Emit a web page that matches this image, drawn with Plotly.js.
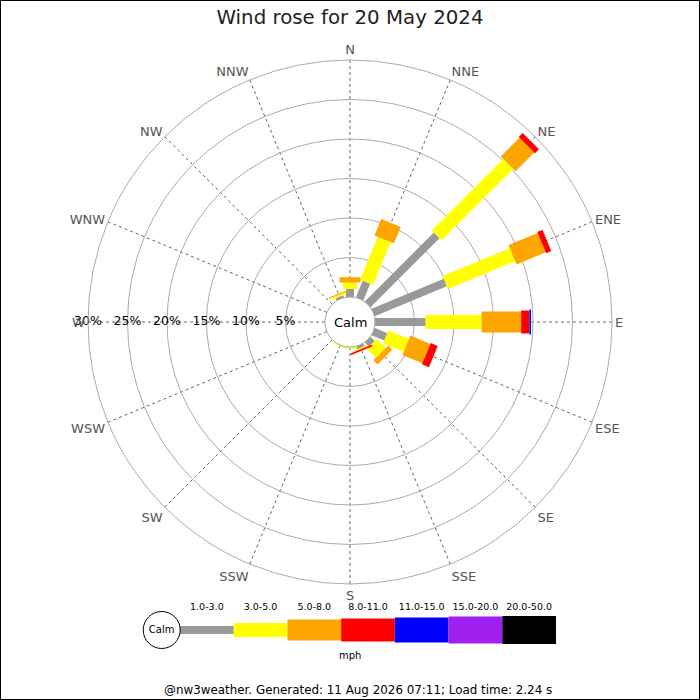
<!DOCTYPE html>
<html><head><meta charset="utf-8">
<script src="https://cdn.plot.ly/plotly-3.0.1.min.js"></script>
<style>html,body{margin:0;padding:0;background:#fff}#chart{width:700px;height:700px}</style>
</head><body><div id="chart"></div>
<script>
const directions = ['N','NNE','NE','ENE','E','ESE','SE','SSE','S','SSW','SW','WSW','W','WNW','NW','NNW'];
const speedBins = ['1.0-3.0','3.0-5.0','5.0-8.0','8.0-11.0','11.0-15.0','15.0-20.0','20.0-50.0'];
const binColors = ['#999999','#ffff00','#ffa500','#ff0000','#0000ff','#a020f0','#000000'];
const binWidths = [8,14,21,23,25,27,28];
// percentage of the day per direction, for each speed bin (mph)
const pct_1_3   = [1.0, 2.3, 12.35, 9.9, 6.4, 1.75, 0.75, 0.35, 0, 0, 0, 0, 0, 0, 0, 0.3];
const pct_3_5   = [0.85, 5.85, 12.8, 9.2, 7.1, 2.8, 1.6, 0.15, 0.15, 0.15, 0, 0, 0, 0, 0, 0.25];
const pct_5_8   = [0.65, 2.25, 3.35, 4.0, 5.0, 2.75, 0.75, 0.05, 0, 0, 0, 0, 0, 0, 0, 0.15];
const pct_8_11  = [0, 0, 0.7, 0.7, 1.05, 0.95, 0, 0.2, 0, 0, 0, 0, 0, 0, 0, 0];
const pct_11_15 = [0, 0, 0, 0, 0.2, 0, 0, 0, 0, 0, 0, 0, 0, 0, 0, 0];
const pct_15_20 = [0, 0, 0, 0, 0, 0, 0, 0, 0, 0, 0, 0, 0, 0, 0, 0];
const pct_20_50 = [0, 0, 0, 0, 0, 0, 0, 0, 0, 0, 0, 0, 0, 0, 0, 0];
const radialTicks = [5, 10, 15, 20, 25, 30];
const radialTickLabels = ['5%', '10%', '15%', '20%', '25%', '30%'];
const titleText = 'Wind rose for 20 May 2024';
const unitText = 'mph';
const footerText = '@nw3weather. Generated: 11 Aug 2026 07:11; Load time: 2.24 s';

const FONT = 'DejaVu Sans, sans-serif';
const binSeries = [pct_1_3, pct_3_5, pct_5_8, pct_8_11, pct_11_15, pct_15_20, pct_20_50];

const traces = [];
const cum = directions.map(() => 0);
binSeries.forEach((vals, b) => {
  const r = [], th = [];
  vals.forEach((v, i) => {
    if (v > 0) {
      r.push(cum[i], cum[i] + v, null);
      th.push(directions[i], directions[i], null);
      cum[i] += v;
    }
  });
  if (r.length) {
    traces.push({
      type: 'scatterpolar', mode: 'lines', r: r, theta: th,
      connectgaps: false,
      line: {color: binColors[b], width: binWidths[b]},
      hoverinfo: 'skip', showlegend: false, cliponaxis: false
    });
  }
});

// radial percentage labels along the W spoke
traces.push({
  type: 'scatterpolar', mode: 'text',
  r: radialTicks, theta: radialTicks.map(() => 'W'),
  text: radialTickLabels, textposition: 'middle center',
  textfont: {family: FONT, size: 12.5, color: '#000'},
  hoverinfo: 'skip', showlegend: false, cliponaxis: false
});

// key below the rose (hidden cartesian axes, one unit per speed bin)
const KEY_PX = 376 / 7;
speedBins.forEach((lab, b) => {
  traces.push({
    type: 'scatter', mode: 'lines', x: [b, b + 1], y: [0, 0],
    xaxis: 'x', yaxis: 'y',
    line: {color: binColors[b], width: binWidths[b]},
    hoverinfo: 'skip', showlegend: false, cliponaxis: false
  });
});
traces.push({
  type: 'scatter', mode: 'text', x: speedBins.map((_, b) => b + 0.5), y: speedBins.map(() => 1.12),
  text: speedBins, textposition: 'middle center',
  textfont: {family: FONT, size: 9.5, color: '#000'},
  xaxis: 'x', yaxis: 'y', hoverinfo: 'skip', showlegend: false, cliponaxis: false
});
traces.push({
  type: 'scatter', mode: 'markers+text', x: [-18.3 / KEY_PX], y: [0],
  text: ['Calm'], textposition: 'middle center',
  textfont: {family: FONT, size: 10, color: '#000'},
  marker: {symbol: 'circle', size: 37, color: '#fff', line: {color: '#000', width: 1}},
  xaxis: 'x', yaxis: 'y', hoverinfo: 'skip', showlegend: false, cliponaxis: false
});

const layout = {
  width: 700, height: 700,
  margin: {l: 0, r: 0, t: 0, b: 0},
  paper_bgcolor: '#fff', plot_bgcolor: 'rgba(0,0,0,0)',
  font: {family: FONT, color: '#000'},
  showlegend: false, hovermode: false,
  title: {text: titleText, x: 0.5, xanchor: 'center', y: 1 - 17 / 700, yanchor: 'middle',
          font: {family: FONT, size: 19.8, color: '#222'}},
  polar: {
    domain: {x: [88 / 700, 612 / 700], y: [116 / 700, 640 / 700]},
    hole: 25 / 262,
    bgcolor: '#fff',
    radialaxis: {range: [0, 30], tickvals: [0].concat(radialTicks), showticklabels: false, ticks: '',
                 showline: false, gridcolor: '#aaaaaa', gridwidth: 1},
    angularaxis: {type: 'category', categoryorder: 'array', categoryarray: directions,
                  direction: 'clockwise', rotation: 90,
                  tickfont: {family: FONT, size: 13, color: '#555'},
                  gridcolor: '#666', griddash: 'dot', gridwidth: 1,
                  showline: true, linecolor: '#aaaaaa', linewidth: 1, ticks: ''}
  },
  xaxis: {domain: [(180 - 0.8 * KEY_PX) / 700, 556 / 700], range: [-0.8, 7], visible: false, fixedrange: true},
  yaxis: {domain: [40 / 700, 100 / 700], range: [-1.5, 1.5], visible: false, fixedrange: true},
  annotations: [
    {text: 'Calm', xref: 'paper', yref: 'paper', x: 0.5, y: 1 - 322 / 700, showarrow: false,
     xanchor: 'center', yanchor: 'middle', font: {family: FONT, size: 13, color: '#000'}},
    {text: unitText, xref: 'paper', yref: 'paper', x: 350 / 700, y: 1 - 655 / 700, showarrow: false,
     xanchor: 'center', yanchor: 'middle', font: {family: FONT, size: 10, color: '#000'}},
    {text: footerText, xref: 'paper', yref: 'paper', x: 358 / 700, y: 1 - 690 / 700, showarrow: false,
     xanchor: 'center', yanchor: 'middle', font: {family: FONT, size: 11.9, color: '#000'}}
  ],
  shapes: [
    {type: 'rect', xref: 'paper', yref: 'paper', x0: 0, x1: 1, y0: 0, y1: 1,
     line: {color: '#000', width: 2}, fillcolor: 'rgba(0,0,0,0)', layer: 'above'}
  ]
};

Plotly.newPlot('chart', traces, layout, {staticPlot: true, displayModeBar: false});
</script>
</body></html>
